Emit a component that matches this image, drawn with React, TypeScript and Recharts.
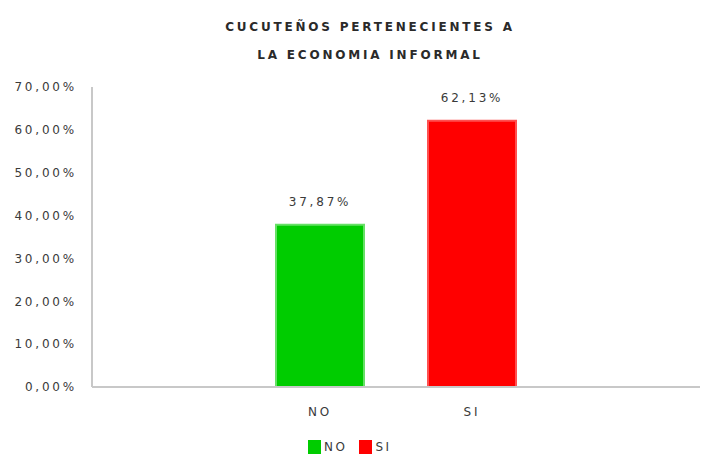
import { Bar, BarChart, Cell, LabelList, XAxis, YAxis } from "recharts";

// two real categories, padded with empty slots like the original sheet
const categories = ["", "NO", "SI", " "];
const values = [null, 37.87, 62.13, null];
const barColors = ["#00cc00", "#00cc00", "#ff0000", "#ff0000"];
const barEdges = ["#66e066", "#66e066", "#ff5050", "#ff5050"];
const yTicks = [0, 10, 20, 30, 40, 50, 60, 70];
const titleLines = ["CUCUTEÑOS PERTENECIENTES A", "LA ECONOMIA INFORMAL"];
const legendItems = [
  { name: "NO", color: "#00cc00" },
  { name: "SI", color: "#ff0000" },
];

const data = categories.map((c, i) => ({ name: c, value: values[i] }));

const fmt = (v: number) => `${Number(v).toFixed(2).replace(".", ",")}%`;

const FONT = "'DejaVu Sans', sans-serif";
const tickStyle = { fontSize: 12, fill: "#3a3a3a", fontFamily: FONT, letterSpacing: 2.8 };

export default function App() {
  return (
    <div style={{ position: "absolute", left: 0, top: 0, width: 706, height: 456, background: "#fff", fontFamily: FONT }}>
      {/* título */}
      <div style={{ position: "absolute", left: 0, width: 740, top: 13, textAlign: "center", fontWeight: "bold", fontSize: 12, color: "#2a2a2a", letterSpacing: 2.8, lineHeight: "28px" }}>
        {titleLines.map((l) => (
          <div key={l}>{l}</div>
        ))}
      </div>

      <BarChart width={706} height={456} data={data} margin={{ top: 87, right: 6, bottom: 39, left: 0 }} barCategoryGap={32}>
        <YAxis
          width={92}
          domain={[0, 70]}
          ticks={yTicks}
          tickFormatter={fmt}
          tickLine={false}
          tickMargin={9}
          axisLine={{ stroke: "#c8c8c8", strokeWidth: 2 }}
          tick={tickStyle}
        />
        <XAxis
          dataKey="name"
          height={30}
          tickLine={false}
          tickMargin={14}
          axisLine={{ stroke: "#c8c8c8", strokeWidth: 2 }}
          tick={tickStyle}
        />
        <Bar dataKey="value" barSize={88} isAnimationActive={false} strokeWidth={2}>
          {data.map((d, i) => (
            <Cell key={`cell-${i}`} fill={barColors[i]} stroke={barEdges[i]} />
          ))}
          <LabelList
            dataKey="value"
            position="top"
            offset={19}
            formatter={(v: any) => (v == null ? "" : fmt(v))}
            style={tickStyle}
          />
        </Bar>
      </BarChart>

      {/* leyenda */}
      <div style={{ position: "absolute", left: 308, top: 440, display: "flex", alignItems: "center", fontSize: 12, color: "#3a3a3a", letterSpacing: 2.5 }}>
        {legendItems.map((it) => (
          <div key={it.name} style={{ display: "flex", alignItems: "center", marginRight: 12 }}>
            <span style={{ display: "inline-block", width: 13, height: 14, background: it.color, marginRight: 3 }} />
            <span>{it.name}</span>
          </div>
        ))}
      </div>
    </div>
  );
}
